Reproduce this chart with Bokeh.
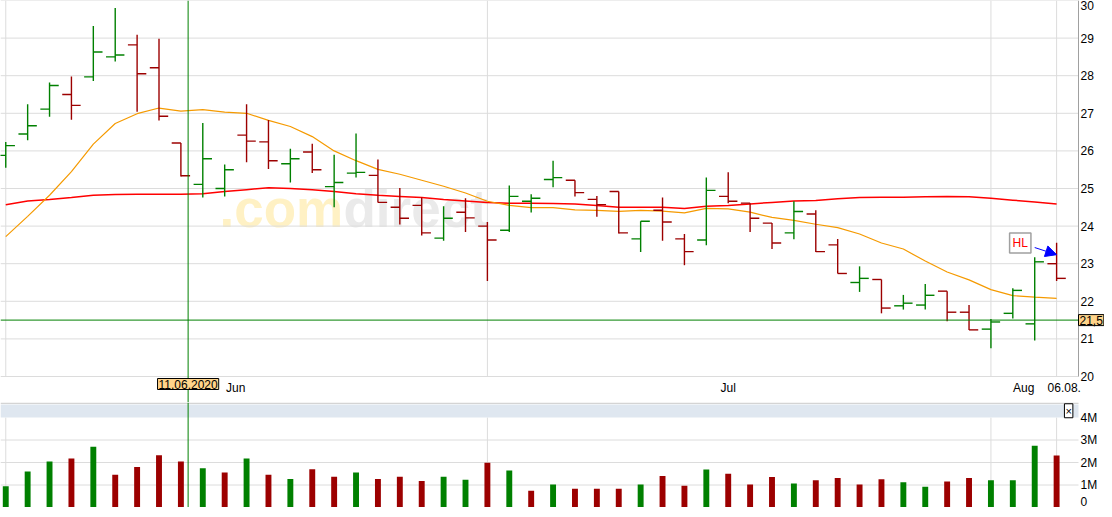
import pandas as pd
from bokeh.plotting import figure
from bokeh.layouts import column
from bokeh.models import (ColumnDataSource, Span, Label, BoxAnnotation,
                          Arrow, NormalHead, Range1d)
from bokeh.core.properties import value
from bokeh.embed import file_html
from bokeh.resources import INLINE

# ---------------- data ----------------
dates = pd.bdate_range("2020-06-01", "2020-08-06")

opens = [25.88, 26.45, 27.11, 27.50, 27.97, 28.50, 28.82, 28.21, 26.21, 25.11,
         25.00, 26.42, 26.24, 25.66, 25.97, 25.05, 25.41, 25.35, 24.50, 24.55,
         23.68, 24.37, 24.00, 23.89, 24.66, 25.24, 25.22, 24.71, 24.92, 23.66,
         24.42, 23.66, 23.63, 24.79, 24.61, 24.08, 23.82, 24.32, 23.50, 22.50,
         22.58, 21.88, 21.90, 22.27, 21.71, 21.26, 21.68, 21.40, 23.00]
highs = [26.24, 27.24, 27.82, 27.98, 29.32, 29.80, 29.09, 28.98, 26.21, 26.74,
         25.64, 27.24, 26.82, 26.06, 26.19, 25.90, 26.46, 25.77, 25.01, 24.76,
         24.53, 24.74, 24.11, 25.08, 24.85, 25.74, 25.22, 24.80, 24.92, 24.13,
         24.76, 23.79, 25.29, 25.43, 24.61, 24.08, 24.66, 24.42, 23.66, 22.93,
         22.58, 22.17, 22.46, 22.27, 21.90, 21.53, 22.35, 23.17, 23.56]
lows = [25.55, 26.28, 26.91, 26.83, 27.86, 28.38, 27.04, 26.81, 25.32, 24.76,
        24.79, 25.70, 25.52, 25.16, 25.41, 24.50, 25.29, 24.63, 24.04, 23.75,
        23.61, 23.84, 22.54, 23.84, 24.36, 25.03, 24.79, 24.25, 23.80, 23.31,
        23.61, 22.96, 23.49, 24.61, 23.84, 23.39, 23.65, 23.31, 22.74, 22.25,
        21.68, 21.78, 21.78, 21.47, 21.24, 20.75, 21.54, 20.96, 22.54]
closes = [26.14, 26.67, 27.74, 27.21, 28.63, 28.55, 28.05, 26.92, 25.34, 25.79,
          25.50, 26.26, 25.74, 25.79, 25.50, 25.16, 25.43, 24.63, 24.21, 23.82,
          24.21, 24.22, 23.63, 24.79, 24.74, 25.29, 24.89, 24.57, 23.82, 24.13,
          24.11, 23.32, 24.95, 24.66, 24.21, 23.55, 24.39, 23.32, 22.74, 22.61,
          21.82, 21.95, 22.16, 21.71, 21.24, 21.45, 22.29, 23.05, 22.61]
prev_close = 25.60  # close of the day before the first bar

volume_m = [0.94, 1.60, 2.04, 2.18, 2.70, 1.46, 1.80, 2.32, 2.04, 1.75,
            1.56, 2.18, 1.46, 1.27, 1.70, 1.37, 1.56, 1.27, 1.37, 1.18,
            1.37, 1.23, 1.99, 1.65, 0.75, 1.02, 0.83, 0.83, 0.83, 1.02,
            1.40, 0.97, 1.69, 1.50, 1.02, 1.36, 1.07, 1.21, 1.31, 1.02,
            1.26, 1.12, 0.92, 1.16, 1.31, 1.21, 1.21, 2.74, 2.31]

ma_short = [23.72, 24.26, 24.82, 25.45, 26.18, 26.73, 26.99, 27.14, 27.06, 27.10,
            27.03, 27.00, 26.81, 26.65, 26.38, 26.00, 25.74, 25.51, 25.38, 25.22,
            25.06, 24.88, 24.66, 24.55, 24.49, 24.49, 24.43, 24.42, 24.39, 24.42,
            24.40, 24.35, 24.47, 24.46, 24.37, 24.23, 24.15, 24.05, 23.96, 23.79,
            23.55, 23.39, 23.07, 22.78, 22.57, 22.31, 22.15, 22.11, 22.08]
ma_long = [24.57, 24.67, 24.71, 24.76, 24.82, 24.84, 24.85, 24.85, 24.85, 24.86,
           24.92, 24.97, 25.02, 25.00, 24.97, 24.92, 24.86, 24.82, 24.79, 24.76,
           24.71, 24.67, 24.63, 24.61, 24.61, 24.60, 24.59, 24.55, 24.50, 24.50,
           24.50, 24.47, 24.53, 24.55, 24.59, 24.63, 24.67, 24.68, 24.73, 24.76,
           24.77, 24.77, 24.78, 24.79, 24.78, 24.74, 24.69, 24.64, 24.59]

price_ticks = [20, 21, 22, 23, 24, 25, 26, 27, 28, 29, 30]
price_tick_labels = ["20", "21", "22", "23", "24", "25", "26", "27", "28", "29", "30"]
volume_ticks = [0, 1, 2, 3, 4]
volume_tick_labels = ["0", "1M", "2M", "3M", "4M"]
month_names = {6: "Jun", 7: "Jul", 8: "Aug"}
crosshair_date = "11.06.2020"
crosshair_price = 21.5
crosshair_price_label = "21,5"

# ---------------- derived ----------------
n = len(dates)
idx = list(range(n))
GREEN = "#008000"
RED = "#9c0000"
bar_col = [GREEN if c >= o else RED for o, c in zip(opens, closes)]
pc = [prev_close] + closes[:-1]
vol_col = [GREEN if c >= p else RED for c, p in zip(closes, pc)]
TW = 0.42
src = ColumnDataSource(dict(
    x=idx, xl=[i - TW for i in idx], xr=[i + TW for i in idx],
    o=opens, h=highs, l=lows, c=closes, col=bar_col,
    v=volume_m, vcol=vol_col))

months = [d.month for d in dates]
month_starts = [i for i in idx if i == 0 or months[i] != months[i - 1]]
grid_x = month_starts + [n - 1]
label_pos, label_txt = [], []
for m in sorted(set(months)):
    ii = [i for i in idx if months[i] == m]
    label_pos.append((ii[0] + ii[-1]) / 2.0)
    label_txt.append(month_names[m])
label_pos.append(float(n - 1) + 0.35)
label_txt.append(dates[-1].strftime("%d.%m."))
cross_idx = [i for i in idx if dates[i].strftime("%d.%m.%Y") == crosshair_date][0]
cross_x = cross_idx + 0.33

# ---------------- geometry / styles ----------------
FONT = "Liberation Sans"
GRID = "#dcdcdc"
W = 1104
PX_X = 1078 / 49.24            # pixels per bar slot
X0 = -0.24
PLOT_RIGHT = 49.0              # right edge of the plotting area (data units)
XMAX = X0 + W / PX_X
H1 = 402
PX_P = 37.6                    # pixels per price unit
P_MIN = 30 - H1 / PX_P
H2 = 105
PX_V = 22.5                    # pixels per million shares
VTOP = H2 / PX_V
LBL_DX = 2 / PX_X

x_range = Range1d(X0, XMAX)

# ---------------- price figure ----------------
p1 = figure(width=W, height=H1, x_range=x_range, y_range=Range1d(P_MIN, 30),
            x_axis_location=None, y_axis_location=None,
            output_backend="svg", toolbar_location=None, tools="",
            min_border_left=0, min_border_right=0, min_border_top=0,
            min_border_bottom=0)
p1.outline_line_color = None
p1.grid.visible = False
p1.background_fill_color = "white"
p1.border_fill_color = "white"

# grid lines
p1.segment(x0=[X0] * len(price_ticks), y0=price_ticks,
           x1=[PLOT_RIGHT] * len(price_ticks), y1=price_ticks,
           line_color=GRID, line_width=1, level="underlay")
p1.segment(x0=grid_x, y0=[20] * len(grid_x), x1=grid_x, y1=[30] * len(grid_x),
           line_color=GRID, line_width=1, level="underlay")
p1.segment(x0=[PLOT_RIGHT], y0=[20], x1=[PLOT_RIGHT], y1=[30],
           line_color="#a0a0a0", line_width=1, level="underlay")

# watermark
WM_Y = 168 + (H1 - 376)
p1.add_layout(Label(x=219, y=WM_Y, x_units="screen", y_units="screen", text=".com",
                    text_font=FONT, text_font_size="53px", text_font_style="bold",
                    text_color="#fff1c4", text_baseline="alphabetic", level="image"))
p1.add_layout(Label(x=343, y=WM_Y, x_units="screen", y_units="screen", text="direct",
                    text_font=FONT, text_font_size="53px", text_font_style="bold",
                    text_color="#eaeaea", text_baseline="alphabetic", level="image"))

# moving averages
p1.line(idx, ma_long, line_color="#ff0000", line_width=1.5)
p1.line(idx, ma_short, line_color="#f59a00", line_width=1.2)

# OHLC bars
p1.segment(x0="x", y0="l", x1="x", y1="h", line_color="col", line_width=1.4, source=src)
p1.segment(x0="xl", y0="o", x1="x", y1="o", line_color="col", line_width=1.4, source=src)
p1.segment(x0="x", y0="c", x1="xr", y1="c", line_color="col", line_width=1.4, source=src)

# axis texts (the topmost label is kept inside the canvas)
price_baselines = ["top" if t == max(price_ticks) else "middle" for t in price_ticks]
p1.text(x=[PLOT_RIGHT + LBL_DX] * len(price_ticks), y=price_ticks, text=price_tick_labels,
        text_baseline=price_baselines,
        text_font=value(FONT), text_font_size="12px", text_color="black",
        text_align="left")
p1.text(x=label_pos, y=[20 - 11 / PX_P] * len(label_pos), text=label_txt,
        text_font=value(FONT), text_font_size="12px", text_color="black",
        text_align="center", text_baseline="middle")

# crosshair
p1.add_layout(Span(location=cross_x, dimension="height", line_color=GREEN, line_width=1))
p1.add_layout(Span(location=crosshair_price, dimension="width", line_color=GREEN, line_width=1))

# annotation "HL" with arrow
p1.add_layout(Label(x=46.34, y=23.55, text="HL", text_align="center", text_baseline="middle",
                    text_color="#ff0000", text_font=FONT, text_font_size="12px",
                    border_line_color="#a0a0a0", border_line_width=1.5,
                    background_fill_color="white", padding=3))
p1.add_layout(Arrow(end=NormalHead(size=11, fill_color="#0000ff", line_color="#0000ff"),
                    x_start=47.0, y_start=23.43, x_end=48.0, y_end=23.24,
                    line_color="#0000ff", line_width=1))

# crosshair value boxes
p1.add_layout(Label(x=PLOT_RIGHT, y=crosshair_price,
                    text=crosshair_price_label, text_align="left", text_baseline="middle",
                    text_font=FONT, text_font_size="12px", text_color="black",
                    background_fill_color="#ffd48a", border_line_color="black",
                    border_line_width=1, padding=1))
p1.add_layout(Label(x=cross_x, y=20 - 2 / PX_P,
                    text=crosshair_date, text_align="center", text_baseline="top",
                    text_font=FONT, text_font_size="12px", text_color="black",
                    background_fill_color="#ffd48a", border_line_color="black",
                    border_line_width=1, padding=1))

# ---------------- volume figure ----------------
p2 = figure(width=W, height=H2, x_range=x_range, y_range=Range1d(0, VTOP),
            x_axis_location=None, y_axis_location=None,
            output_backend="svg", toolbar_location=None, tools="",
            min_border_left=0, min_border_right=0, min_border_top=0,
            min_border_bottom=0)
p2.outline_line_color = None
p2.grid.visible = False
p2.background_fill_color = "white"
p2.border_fill_color = "white"

vgrid = [1, 2, 3]
p2.segment(x0=[X0] * len(vgrid), y0=vgrid, x1=[PLOT_RIGHT] * len(vgrid), y1=vgrid,
           line_color=GRID, line_width=1, level="underlay")
p2.segment(x0=grid_x, y0=[0] * len(grid_x), x1=grid_x, y1=[4] * len(grid_x),
           line_color=GRID, line_width=1, level="underlay")

p2.vbar(x="x", top="v", width=0.27, fill_color="vcol", line_color=None, source=src)

p2.add_layout(BoxAnnotation(right=PLOT_RIGHT, bottom=4.0, top=VTOP - 0.09,
                            fill_color="#dfe7f0", fill_alpha=1.0, line_color=None))
p2.segment(x0=[X0], y0=[VTOP - 0.03], x1=[PLOT_RIGHT], y1=[VTOP - 0.03],
           line_color="#d4d4d4", line_width=1.5)

vol_baselines = ["bottom" if t == min(volume_ticks) else "middle" for t in volume_ticks]
vol_yoff = [-2 if t == min(volume_ticks) else 0 for t in volume_ticks]
p2.text(x=[PLOT_RIGHT + LBL_DX] * len(volume_ticks), y=volume_ticks, text=volume_tick_labels,
        text_baseline=vol_baselines, y_offset=vol_yoff,
        text_font=value(FONT), text_font_size="12px", text_color="black",
        text_align="left")

p2.add_layout(Span(location=cross_x, dimension="height", line_color=GREEN, line_width=1))
p2.add_layout(Label(x=PLOT_RIGHT - 0.45, y=4.3, text="×",
                    text_align="center", text_baseline="middle", text_font=FONT,
                    text_font_size="11px", text_color="black",
                    background_fill_color="white", border_line_color="black",
                    border_line_width=1, padding=1))

layout = column(p1, p2, spacing=0)
open("out.html", "w").write(file_html(layout, INLINE))
